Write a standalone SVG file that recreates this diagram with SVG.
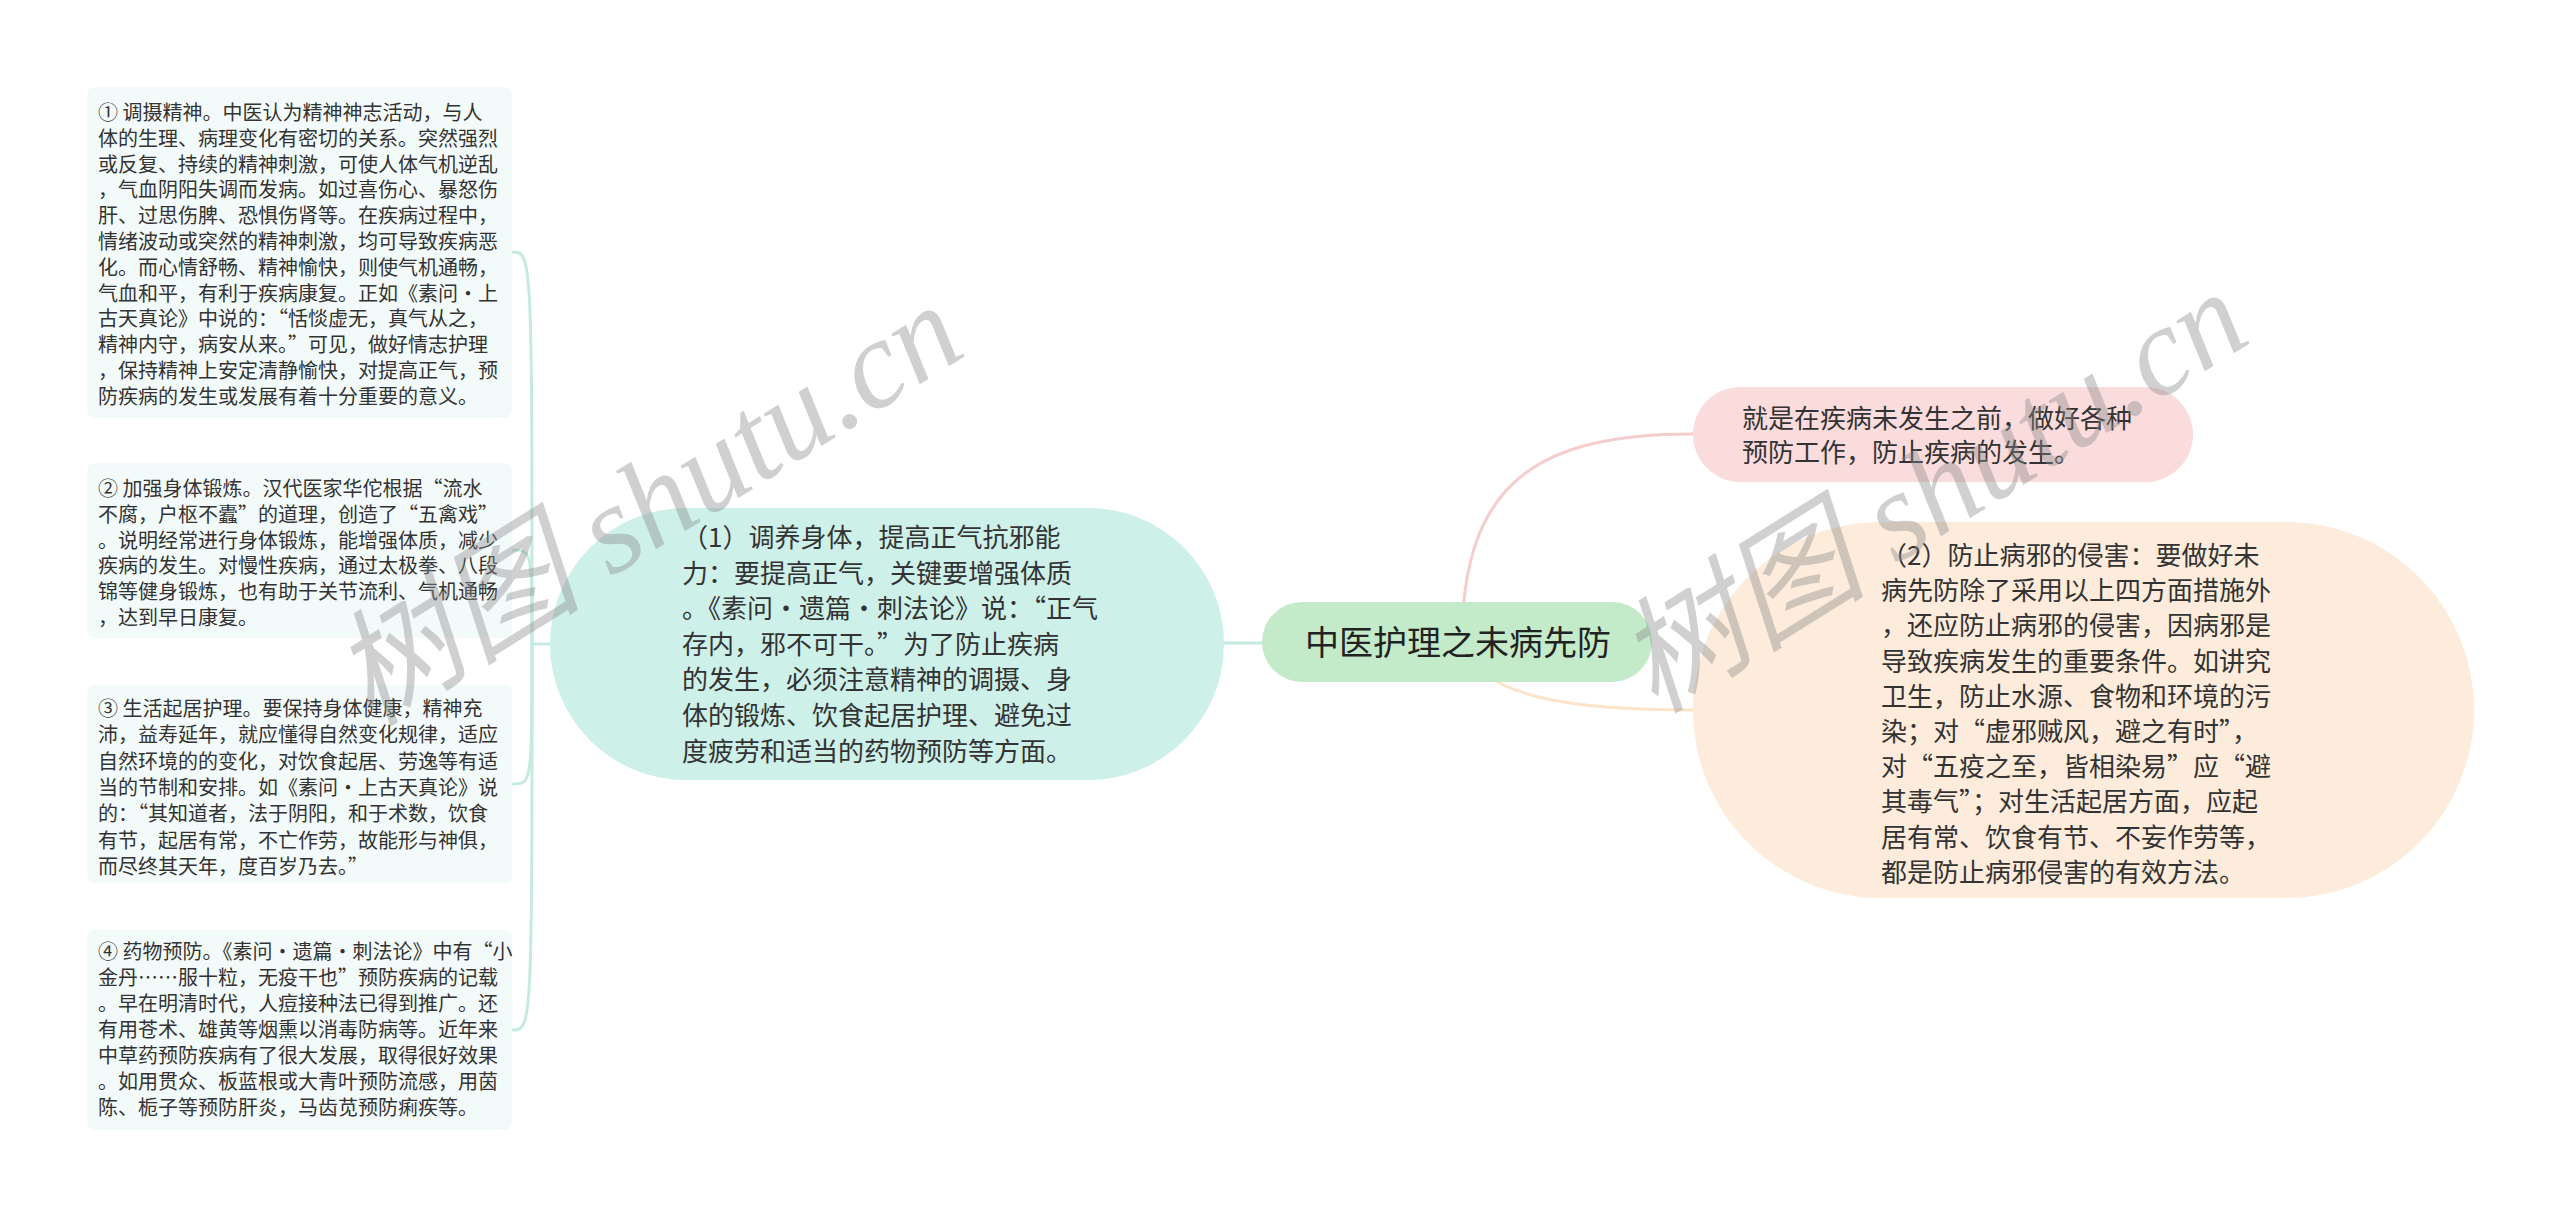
<svg xmlns="http://www.w3.org/2000/svg" width="2560" height="1219" viewBox="0 0 2560 1219">
<style>
.cjk{font-family:"Noto Sans CJK SC","Noto Sans",sans-serif;fill:#333}
.leaf{font-size:20px}
.mid{font-size:26px}
.root{font-size:34px;fill:#222}
.lbox{fill:#f3fbfa}
.ct{fill:none;stroke:#c4eae2;stroke-width:3}
.wm{font-family:"Liberation Serif","Noto Sans CJK SC",serif;font-style:italic;font-size:126px;fill:#8a8a8a;fill-opacity:0.4}
</style>
<rect width="2560" height="1219" fill="#ffffff"/>
<g id="connectors">
<path class="ct" d="M1263,643 L1224,643"/>
<path fill="none" stroke="#f6cdcd" stroke-width="3" d="M1462,642 C1462,480 1540,434 1693,434"/>
<path fill="none" stroke="#fde3c9" stroke-width="3" d="M1460,642 C1480,700 1580,710 1693,710"/>
<path class="ct" d="M550,644 L532,644"/>
<path class="ct" d="M532,644 C532,252 532,252 512,252"/>
<path class="ct" d="M532,644 C532,550 532,550 512,550"/>
<path class="ct" d="M532,644 C532,784 532,784 512,784"/>
<path class="ct" d="M532,644 C532,1030 532,1030 512,1030"/>
</g>
<g id="root">
<rect x="1262" y="602" width="390" height="80" rx="40" fill="#c4ebc9"/>
<text class="cjk root" x="1458" y="655" text-anchor="middle">中医护理之未病先防</text>
</g>
<g id="node-pink">
<rect x="1693" y="387" width="500" height="95" rx="47.5" fill="#fbdcdc"/>
<text class="cjk mid" x="1742" y="428">就是在疾病未发生之前，做好各种<tspan x="1742" dy="34">预防工作，防止疾病的发生。</tspan></text>
</g>
<g id="node-orange">
<rect x="1693" y="522" width="781" height="376" rx="188" fill="#fdecdb"/>
<text class="cjk mid" x="1881" y="565">（2）防止病邪的侵害：要做好未<tspan x="1881" dy="35.2">病先防除了采用以上四方面措施外</tspan><tspan x="1881" dy="35.2">，还应防止病邪的侵害，因病邪是</tspan><tspan x="1881" dy="35.2">导致疾病发生的重要条件。如讲究</tspan><tspan x="1881" dy="35.2">卫生，防止水源、食物和环境的污</tspan><tspan x="1881" dy="35.2">染；对“虚邪贼风，避之有时”，</tspan><tspan x="1881" dy="35.2">对“五疫之至，皆相染易”应“避</tspan><tspan x="1881" dy="35.2">其毒气”；对生活起居方面，应起</tspan><tspan x="1881" dy="35.2">居有常、饮食有节、不妄作劳等，</tspan><tspan x="1881" dy="35.2">都是防止病邪侵害的有效方法。</tspan></text>
</g>
<g id="node-teal">
<rect x="550" y="508" width="674" height="272" rx="136" fill="#cdf0e9"/>
<text class="cjk mid" x="682" y="547">（1）调养身体，提高正气抗邪能<tspan x="682" dy="35.6">力：要提高正气，关键要增强体质</tspan><tspan x="682" dy="35.6">。《素问·遗篇·刺法论》说：“正气</tspan><tspan x="682" dy="35.6">存内，邪不可干。”为了防止疾病</tspan><tspan x="682" dy="35.6">的发生，必须注意精神的调摄、身</tspan><tspan x="682" dy="35.6">体的锻炼、饮食起居护理、避免过</tspan><tspan x="682" dy="35.6">度疲劳和适当的药物预防等方面。</tspan></text>
</g>
<g id="leaf-1">
<rect class="lbox" x="87" y="87" width="425" height="331" rx="8"/>
<text class="cjk leaf" x="98" y="120">① 调摄精神。中医认为精神神志活动，与人<tspan x="98" dy="25.8">体的生理、病理变化有密切的关系。突然强烈</tspan><tspan x="98" dy="25.8">或反复、持续的精神刺激，可使人体气机逆乱</tspan><tspan x="98" dy="25.8">，气血阴阳失调而发病。如过喜伤心、暴怒伤</tspan><tspan x="98" dy="25.8">肝、过思伤脾、恐惧伤肾等。在疾病过程中，</tspan><tspan x="98" dy="25.8">情绪波动或突然的精神刺激，均可导致疾病恶</tspan><tspan x="98" dy="25.8">化。而心情舒畅、精神愉快，则使气机通畅，</tspan><tspan x="98" dy="25.8">气血和平，有利于疾病康复。正如《素问·上</tspan><tspan x="98" dy="25.8">古天真论》中说的：“恬惔虚无，真气从之，</tspan><tspan x="98" dy="25.8">精神内守，病安从来。”可见，做好情志护理</tspan><tspan x="98" dy="25.8">，保持精神上安定清静愉快，对提高正气，预</tspan><tspan x="98" dy="25.8">防疾病的发生或发展有着十分重要的意义。</tspan></text>
</g>
<g id="leaf-2">
<rect class="lbox" x="87" y="463" width="425" height="175" rx="8"/>
<text class="cjk leaf" x="98" y="496">② 加强身体锻炼。汉代医家华佗根据“流水<tspan x="98" dy="25.8">不腐，户枢不蠹”的道理，创造了“五禽戏”</tspan><tspan x="98" dy="25.8">。说明经常进行身体锻炼，能增强体质，减少</tspan><tspan x="98" dy="25.8">疾病的发生。对慢性疾病，通过太极拳、八段</tspan><tspan x="98" dy="25.8">锦等健身锻炼，也有助于关节流利、气机通畅</tspan><tspan x="98" dy="25.8">，达到早日康复。</tspan></text>
</g>
<g id="leaf-3">
<rect class="lbox" x="87" y="685" width="425" height="198" rx="8"/>
<text class="cjk leaf" x="98" y="716">③ 生活起居护理。要保持身体健康，精神充<tspan x="98" dy="26.3">沛，益寿延年，就应懂得自然变化规律，适应</tspan><tspan x="98" dy="26.3">自然环境的的变化，对饮食起居、劳逸等有适</tspan><tspan x="98" dy="26.3">当的节制和安排。如《素问·上古天真论》说</tspan><tspan x="98" dy="26.3">的：“其知道者，法于阴阳，和于术数，饮食</tspan><tspan x="98" dy="26.3">有节，起居有常，不亡作劳，故能形与神俱，</tspan><tspan x="98" dy="26.3">而尽终其天年，度百岁乃去。”</tspan></text>
</g>
<g id="leaf-4">
<rect class="lbox" x="87" y="930" width="425" height="200" rx="8"/>
<text class="cjk leaf" x="98" y="959">④ 药物预防。《素问·遗篇·刺法论》中有“小<tspan x="98" dy="26">金丹……服十粒，无疫干也”预防疾病的记载</tspan><tspan x="98" dy="26">。早在明清时代，人痘接种法已得到推广。还</tspan><tspan x="98" dy="26">有用苍术、雄黄等烟熏以消毒防病等。近年来</tspan><tspan x="98" dy="26">中草药预防疾病有了很大发展，取得很好效果</tspan><tspan x="98" dy="26">。如用贯众、板蓝根或大青叶预防流感，用茵</tspan><tspan x="98" dy="26">陈、栀子等预防肝炎，马齿苋预防痢疾等。</tspan></text>
</g>
<g id="watermarks">
<text class="wm" x="370" y="728" transform="rotate(-32 370 728)">树图 shutu.cn</text>
<text class="wm" x="1655" y="715" transform="rotate(-32 1655 715)">树图 shutu.cn</text>
</g>
</svg>
